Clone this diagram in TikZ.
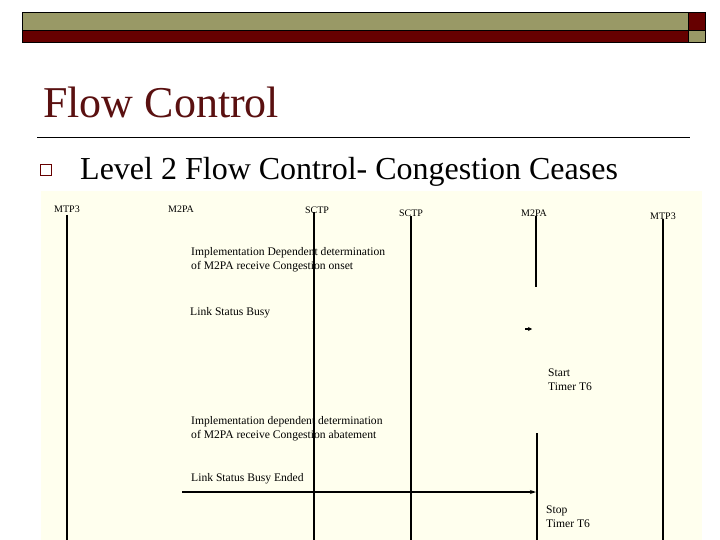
\documentclass[tikz,border=0pt]{standalone}
\usepackage{fontspec}
\setmainfont{Liberation Serif}
\usetikzlibrary{arrows.meta}
\definecolor{olive}{RGB}{153,153,102}
\definecolor{darkred}{RGB}{102,0,0}
\definecolor{titlered}{RGB}{90,16,16}
\definecolor{ivory}{RGB}{255,255,238}
\tikzset{
  lbl/.style={inner sep=0pt, font=\fontsize{10}{12}\selectfont, anchor=base},
  note/.style={inner sep=0pt, font=\fontsize{11.6}{14}\selectfont, anchor=north west, align=left},
  life/.style={line width=1.2pt, black},
  msg/.style={line width=1.1pt, black},
}
\begin{document}
\begin{tikzpicture}[x=1pt,y=-1pt]
\useasboundingbox (0,0) rectangle (720,540);
\fill[white] (0,0) rectangle (720,540);
% header bars
\filldraw[fill=olive, draw=black, line width=0.6pt] (22,12) rectangle (688,30);
\filldraw[fill=darkred, draw=black, line width=0.6pt] (22,30) rectangle (688,42);
\filldraw[fill=darkred, draw=black, line width=0.6pt] (688,12) rectangle (705,30);
\filldraw[fill=olive, draw=black, line width=0.6pt] (688,30) rectangle (705,42);
% title
\node[inner sep=0pt, anchor=base west, text=titlered, font=\fontsize{44}{48}\selectfont] (title) at (43,118) {Flow Control};
\draw[line width=0.8pt] (37,137) -- (690,137);
\node[draw=darkred, line width=1pt, minimum size=11pt, inner sep=0pt] (bullet) at (46,170) {};
\node[inner sep=0pt, anchor=base west, font=\fontsize{32}{36}\selectfont] (sub) at (80,180) {Level 2 Flow Control- Congestion Ceases};
% diagram background
\fill[ivory] (41,191) rectangle (702,540);
% lifeline labels
\node[lbl] (mtpA) at (67,212) {MTP3};
\node[lbl] (mpaA) at (181,212) {M2PA};
\node[lbl] (sctpA) at (317,214) {SCTP};
\node[lbl] (sctpB) at (411,216) {SCTP};
\node[lbl] (mpaB) at (534,216) {M2PA};
\node[lbl] (mtpB) at (663,219) {MTP3};
% lifeline ends
\coordinate (mtpAend) at (67,540);
\coordinate (sctpAend) at (314,540);
\coordinate (sctpBend) at (411,540);
\coordinate (mpaBend1) at (536,287);
\coordinate (mpaBstart2) at (537,433);
\coordinate (mpaBend2) at (537,540);
\coordinate (mtpBend) at (663,540);
\draw[life] (67,215) -- (mtpAend);
\draw[life] (314,212) -- (sctpAend);
\draw[life] (411,216) -- (sctpBend);
\draw[life] (536,216) -- (mpaBend1);
\draw[life] (mpaBstart2) -- (mpaBend2);
\draw[life] (663,219) -- (mtpBend);
% notes
\node[note] (n1) at (191,247) {Implementation Dependent determination\\of M2PA receive Congestion onset};
\node[note] (n2) at (190,307) {Link Status Busy};
\coordinate (tickA) at (525,329);
\coordinate (tickB) at (532,329);
\draw[msg, -{Stealth[length=4pt,width=4pt]}] (tickA) -- (tickB);
\node[note] (n3) at (548,369) {Start\\Timer T6};
\node[note] (n4) at (191,416) {Implementation dependent determination\\of M2PA receive Congestion abatement};
\node[note] (n5) at (191,473) {Link Status Busy Ended};
\coordinate (arrA) at (182,492);
\coordinate (arrB) at (536,492);
\draw[msg, -{Stealth[length=6pt,width=4pt]}] (arrA) -- (arrB);
\node[note] (n6) at (546,506) {Stop\\Timer T6};
\end{tikzpicture}
\end{document}
